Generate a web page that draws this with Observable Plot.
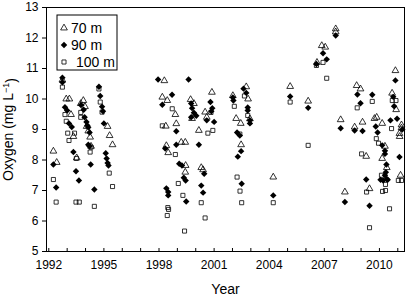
<!DOCTYPE html>
<html><head><meta charset="utf-8">
<script src="https://cdn.jsdelivr.net/npm/d3@7"></script>
<script src="https://cdn.jsdelivr.net/npm/@observablehq/plot@0.6"></script>
<style>
body{margin:0;background:#fff}
#chart{width:406px;height:295px}
</style></head><body><div id="chart"></div>
<script>
const seriesNames = ["70 m", "90 m", "100 m"];
const yearTicks = [1992, 1995, 1998, 2001, 2004, 2007, 2010];
const minorYears = d3.range(1992, 2012);
const oxygenTicks = [5, 6, 7, 8, 9, 10, 11, 12, 13];

// [year, oxygen mg/L]
const d70 = [
  [1992.25,8.29],[1992.43,7.92],[1992.74,10.62],[1992.95,10.0],[1993.12,10.0],[1993.21,9.49],[1993.34,8.77],[1993.52,8.07],
  [1993.74,9.85],[1993.88,9.95],[1993.97,9.75],[1994.06,9.1],[1994.15,8.95],[1994.25,8.75],[1994.3,8.45],
  [1995.2,9.1],[1995.31,8.8],[1995.47,8.5],
  [1998.29,10.6],[1998.18,10.06],[1998.45,9.95],[1998.89,9.49],[1998.37,9.11],[1998.94,9.19],[1999.21,8.58],[1999.43,8.58],
  [1998.4,8.47],[1998.5,8.24],[1999.45,7.82],[1999.43,7.6],
  [1999.72,9.98],[1999.9,9.85],[1999.8,9.36],[2000.17,8.97],[2000.3,7.75],[2000.4,7.68],
  [2000.88,10.22],[2000.51,9.57],[2000.6,9.4],
  [2002.02,10.11],[2002.75,10.4],[2002.85,10.0],[2002.2,9.36],[2002.45,9.2],[2002.47,8.5],[2002.95,9.35],
  [2004.22,7.44],
  [2005.14,10.41],[2006.12,9.93],[2006.86,11.75],[2007.05,11.7],[2006.6,11.2],[2007.62,12.3],[2007.62,12.2],[2007.89,9.32],[2008.12,6.95],
  [2008.65,9.08],[2009.08,9.24],[2008.76,10.44],[2008.97,10.33],[2009.46,7.06],[2009.28,8.12],
  [2009.73,9.36],[2009.85,9.4],[2010.15,9.2],[2010.3,8.45],[2010.15,8.05],[2010.4,7.75],
  [2010.87,10.93],[2010.69,10.19],[2010.91,9.65],[2011.2,9.15],[2011.2,9.05],[2011.09,8.87],[2011.1,8.77],[2011.15,7.5]
];
const d90 = [
  [1992.25,7.85],[1992.4,7.1],[1992.74,10.7],[1992.74,10.55],[1992.88,9.73],[1993.0,9.62],[1993.1,9.2],[1993.25,9.08],[1993.34,8.26],[1993.48,7.63],[1993.64,7.33],
  [1993.75,9.8],[1993.9,9.65],[1993.95,9.4],[1994.05,9.25],[1994.1,9.13],[1994.15,9.07],[1994.22,8.9],[1994.15,8.5],[1994.22,8.45],[1994.28,7.85],[1994.48,7.03],
  [1994.73,10.4],[1994.8,10.1],[1994.9,9.75],[1994.95,9.6],[1995.0,9.2],[1995.1,8.22],[1995.15,8.05],[1995.2,7.9],[1995.25,7.82],
  [1997.95,10.64],[1998.18,9.81],[1998.71,10.14],[1998.94,8.94],[1998.94,8.5],[1998.34,8.38],[1999.1,7.88],[1999.25,7.82],[1999.35,7.42],[1999.45,7.33],
  [1998.4,7.07],[1998.5,6.95],[1998.5,6.84],[1999.48,6.64],
  [1999.61,10.64],[1999.75,9.85],[1999.8,9.7],[1999.9,9.55],[1999.75,9.4],[2000.03,9.45],[2000.17,8.5],[2000.46,7.55],[2000.3,7.16],[2000.4,6.93],
  [2000.8,9.9],[2000.9,9.7],[2000.85,9.6],[2000.6,9.3],[2001.0,9.25],
  [2002.02,10.05],[2002.05,9.95],[2002.6,10.34],[2002.75,10.2],[2002.83,9.72],[2002.83,9.62],[2002.95,9.3],[2002.95,9.2],
  [2002.25,8.9],[2002.4,8.8],[2002.47,8.29],[2002.29,8.11],[2002.5,7.22],
  [2004.22,6.84],
  [2005.14,10.08],[2006.12,9.71],[2006.57,11.15],[2006.93,11.5],[2007.13,11.3],[2007.62,12.08],[2007.89,9.04],[2008.12,6.62],
  [2008.65,8.97],[2009.08,8.95],[2008.8,10.15],[2008.97,9.86],[2009.61,10.14],[2009.28,7.36],[2009.46,6.5],
  [2009.8,9.1],[2009.9,8.9],[2010.15,8.48],[2010.3,8.3],[2010.3,8.2],[2010.38,7.85],[2010.35,7.6],[2010.3,7.5],[2010.4,7.38],[2010.2,7.33],[2010.06,7.35],[2010.45,7.35],
  [2010.87,10.61],[2010.75,10.07],[2010.8,9.76],[2010.96,9.35],[2010.6,9.3],[2011.24,9.0],[2011.09,8.1]
];
const d100 = [
  [1992.25,7.36],[1992.4,6.62],[1992.74,10.39],[1992.88,9.49],[1992.95,9.27],[1993.03,8.88],[1993.1,8.64],[1993.4,8.88],[1993.5,8.05],[1993.48,6.62],[1993.66,6.62],
  [1993.74,9.56],[1993.74,9.4],[1994.3,8.42],[1994.25,8.26],[1994.48,6.48],
  [1994.73,10.33],[1994.8,9.9],[1994.9,9.57],[1995.29,7.57],[1995.47,7.13],
  [1998.18,9.12],[1998.48,6.44],[1998.52,6.38],[1998.45,6.18],
  [1998.72,9.68],[1998.89,8.18],[1999.05,7.23],[1999.3,6.84],[1999.39,5.67],
  [2000.83,9.56],[2000.66,8.88],[2000.93,8.97],[2000.3,6.6],[2000.51,6.1],
  [2002.1,9.76],[2002.65,10.1],[2002.83,9.46],[2002.4,8.85],[2002.25,7.44],[2002.41,6.98],[2002.5,6.6],
  [2004.22,6.6],
  [2005.14,9.9],[2006.12,8.48],[2006.57,11.1],[2006.93,11.2],[2007.13,10.68],
  [2008.79,9.71],[2009.61,9.92],[2009.3,6.95],[2009.46,5.78],[2009.03,8.2],
  [2009.83,8.7],[2009.95,8.55],[2010.11,7.5],[2010.33,7.2],[2010.33,7.0],[2010.17,6.97],[2010.55,6.4],
  [2010.7,9.95],[2010.9,9.95],[2010.66,9.03],[2011.03,7.33],[2011.2,7.33]
];

const toRows = (arr, depth) => arr.map(([year, oxygen]) => ({year, oxygen, depth}));
const rows70 = toRows(d70, seriesNames[0]);
const rows90 = toRows(d90, seriesNames[1]);
const rows100 = toRows(d100, seriesNames[2]);

const font = "'Liberation Sans', Arial, Helvetica, sans-serif";
const plotH = 295 - 7 - 44;
const rTri = 2.5, rDia = 2.9, rSq = 2.3;

const chart = Plot.plot({
  width: 406, height: 295,
  marginLeft: 46, marginRight: 2, marginTop: 7, marginBottom: 44,
  style: {fontFamily: font, fontSize: "12px", color: "#000", background: "#fff", overflow: "visible"},
  x: {domain: [1991.875, 2011.365]},
  y: {domain: [5, 13]},
  marks: [
    Plot.axisY({ticks: oxygenTicks, tickSize: 4, tickPadding: 4, label: "Oxygen (mg L-1)", labelAnchor: "center", labelOffset: 43, tickFormat: d3.format("d")}),
    Plot.axisX({ticks: yearTicks, tickSize: 0, tickPadding: 9, label: "Year", labelAnchor: "center", labelOffset: 42, tickFormat: d => String(d)}),
    Plot.tickX(minorYears, {x: d => d, insetTop: plotH - 3, stroke: "#000", strokeWidth: 1}),
    Plot.frame({stroke: "#000", strokeWidth: 1}),
    Plot.dot(rows70, {x: "year", y: "oxygen", symbol: "triangle", r: rTri, stroke: "#000", strokeWidth: 0.8, fill: "none"}),
    Plot.dot(rows90, {x: "year", y: "oxygen", symbol: "diamond2", r: rDia, stroke: "none", fill: "#000"}),
    Plot.dot(rows100, {x: "year", y: "oxygen", symbol: "square", r: rSq, stroke: "#000", strokeWidth: 0.8, fill: "none"})
  ]
});
document.getElementById("chart").appendChild(chart);

const svg = d3.select(chart);
// axis titles: size, no arrow, superscript
svg.selectAll('[aria-label="x-axis label"] text, [aria-label="y-axis label"] text').style("font-size", "14px");
svg.select('[aria-label="x-axis label"] text').text("Year");
const yl = svg.select('[aria-label="y-axis label"] text');
yl.text("Oxygen (mg L");
yl.append("tspan").attr("dy", "-0.45em").style("font-size", "9px").text("\u22121");
yl.append("tspan").attr("dy", "0.45em").text(")");

// legend
const lg = svg.append("g").attr("font-family", font).attr("font-size", 14).attr("text-anchor", "start");
lg.append("rect").attr("x", 57).attr("y", 15).attr("width", 60).attr("height", 55)
  .attr("fill", "#fff").attr("stroke", "#000").attr("stroke-width", 1);
const legendItems = [
  {name: seriesNames[0], sym: d3.symbolTriangle, size: Math.PI * rTri * rTri, fill: "none", stroke: "#000", tx: 71},
  {name: seriesNames[1], sym: d3.symbolDiamond2, size: Math.PI * rDia * rDia, fill: "#000", stroke: "none", tx: 71},
  {name: seriesNames[2], sym: d3.symbolSquare, size: Math.PI * rSq * rSq, fill: "none", stroke: "#000", tx: 76}
];
legendItems.forEach((it, i) => {
  const cy = 28 + i * 17;
  lg.append("path").attr("d", d3.symbol(it.sym, it.size)()).attr("transform", `translate(64,${cy})`)
    .attr("fill", it.fill).attr("stroke", it.stroke).attr("stroke-width", 0.8);
  lg.append("text").attr("x", it.tx).attr("y", cy).attr("dy", "0.35em").attr("text-anchor", "start").text(it.name);
});
</script></body></html>
